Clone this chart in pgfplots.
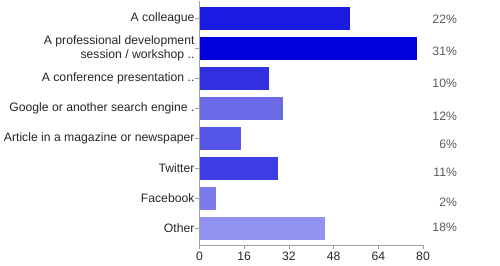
\documentclass[border=0pt]{standalone}
\usepackage{pgfplots}
\pgfplotsset{compat=1.18}
\usepackage{fontspec}
\setmainfont{Liberation Sans}
\definecolor{c1}{RGB}{26,26,224}
\definecolor{c2}{RGB}{0,0,222}
\definecolor{c3}{RGB}{48,48,224}
\definecolor{c4}{RGB}{107,107,232}
\definecolor{c5}{RGB}{85,85,232}
\definecolor{c6}{RGB}{61,61,230}
\definecolor{c7}{RGB}{123,123,238}
\definecolor{c8}{RGB}{146,146,240}
\definecolor{axgray}{RGB}{160,160,160}
\definecolor{pctgray}{RGB}{90,90,90}
\begin{document}
\begin{tikzpicture}
\useasboundingbox (0pt,0pt) rectangle (500pt,265pt);
\begin{axis}[
  at={(199.5pt,20pt)}, anchor=south west,
  scale only axis, width=223.5pt, height=244pt,
  xmin=0, xmax=80, ymin=-0.55, ymax=7.58,
  xtick={0,16,32,48,64,80},
  ytick={0,1,2,3,4,5,6,7},
  yticklabels={Other,Facebook,Twitter,Article in a magazine or newspaper,Google or another search engine .,A conference presentation ..,{A professional development\\session / workshop ..},A colleague},
  axis x line*=bottom, axis y line*=left,
  axis line style={axgray, line width=0.8pt},
  tick style={axgray, line width=0.8pt},
  tick align=outside, major tick length=4pt,
  ticklabel style={font=\fontsize{12.2}{14}\selectfont, text=black!85},
  yticklabel style={align=right, xshift=2.5pt},
  xticklabel style={yshift=1pt},
  /pgf/number format/assume math mode=true,
  clip=false,
  mybar/.style={xbar, bar width=23.5pt, bar shift=0pt, draw=none},
]
\addplot[mybar, fill=c1] coordinates {(54,7)};
\addplot[mybar, fill=c2] coordinates {(78,6)};
\addplot[mybar, fill=c3] coordinates {(25,5)};
\addplot[mybar, fill=c4] coordinates {(30,4)};
\addplot[mybar, fill=c5] coordinates {(15,3)};
\addplot[mybar, fill=c6] coordinates {(28,2)};
\addplot[mybar, fill=c7] coordinates {(6,1)};
\addplot[mybar, fill=c8] coordinates {(45,0)};
\begin{scope}[every node/.style={anchor=east, text=pctgray, font=\fontsize{12.2}{14}\selectfont, inner sep=0pt}]
\node at (axis cs:92.2,6.98) {22\%};
\node at (axis cs:92.2,5.92) {31\%};
\node at (axis cs:92.2,4.85) {10\%};
\node at (axis cs:92.2,3.75) {12\%};
\node at (axis cs:92.2,2.82) {6\%};
\node at (axis cs:92.2,1.86) {11\%};
\node at (axis cs:92.2,0.89) {2\%};
\node at (axis cs:92.2,0.03) {18\%};
\end{scope}
\end{axis}
\end{tikzpicture}
\end{document}
